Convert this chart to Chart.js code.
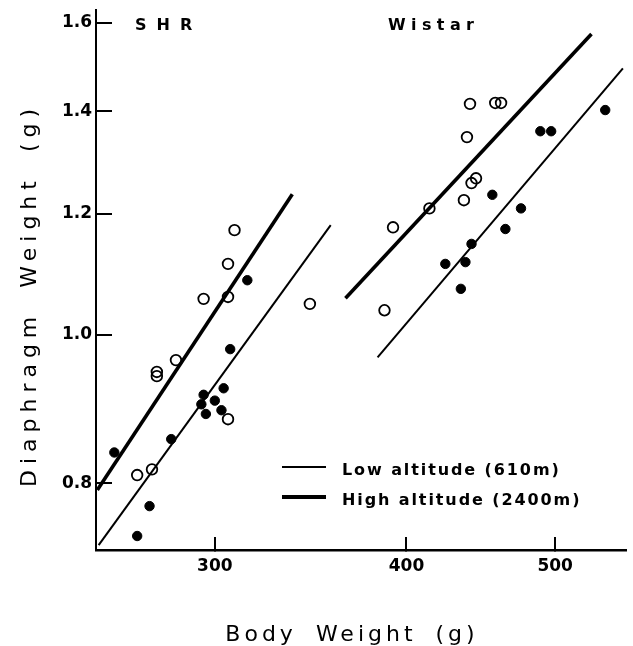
<!DOCTYPE html>
<html>
<head>
<meta charset="utf-8">
<title>Diaphragm weight vs body weight</title>
<script src="https://cdn.jsdelivr.net/npm/chart.js@4.4.1/dist/chart.umd.min.js"></script>
<style>
  html, body { margin: 0; padding: 0; background: #fff; }
  canvas { display: block; }
</style>
</head>
<body>
<canvas id="chart" width="633" height="646"></canvas>
<script>
// values: body weight (g) vs diaphragm weight (g)
// open circles = high altitude, filled circles = low altitude
const shrHighBody  = [309, 306, 295, 306, 346, 283, 275, 275, 306, 267, 273];
const shrHighDiaph = [1.171, 1.113, 1.056, 1.059, 1.048, 0.963, 0.946, 0.940, 0.881, 0.810, 0.817];

const shrLowBody  = [315, 307, 295, 304, 300, 294, 303, 296, 281, 258, 272, 267];
const shrLowDiaph = [1.086, 0.979, 0.914, 0.923, 0.906, 0.901, 0.893, 0.888, 0.855, 0.838, 0.773, 0.739];

const wistarHighBody  = [440, 457, 461, 438, 444, 441, 436, 414, 392, 387];
const wistarHighDiaph = [1.416, 1.418, 1.418, 1.347, 1.266, 1.257, 1.225, 1.210, 1.176, 1.038];

const wistarLowBody  = [455, 441, 424, 437, 434, 464, 475, 489, 497, 539];
const wistarLowDiaph = [1.235, 1.147, 1.113, 1.116, 1.072, 1.173, 1.210, 1.359, 1.359, 1.403];

// regression lines (end points)
const shrHighFitBody     = [251.5, 337];
const shrHighFitDiaph    = [0.792, 1.236];
const shrLowFitBody      = [252, 357];
const shrLowFitDiaph     = [0.729, 1.180];
const wistarHighFitBody  = [365, 528];
const wistarHighFitDiaph = [1.057, 1.573];
const wistarLowFitBody   = [383, 553.5];
const wistarLowFitDiaph  = [0.967, 1.494];

const xTicks = [300, 400, 500];
const yTicks = [0.8, 1.0, 1.2, 1.4, 1.6];
const groupLabels = ['SHR', 'Wistar'];
const legendLabels = ['Low altitude (610m)', 'High altitude (2400m)'];
const xTitle = 'Body Weight (g)';
const yTitle = 'Diaphragm Weight (g)';

const toPoints = (xs, ys) => xs.map((x, i) => ({ x: x, y: ys[i] }));

const openDot = {
  showLine: false, pointRadius: 5.3, pointHoverRadius: 5.3, pointBorderWidth: 1.8,
  pointBorderColor: '#000', pointBackgroundColor: 'rgba(0,0,0,0)'
};
const filledDot = {
  showLine: false, pointRadius: 4.7, pointHoverRadius: 4.7, pointBorderWidth: 1,
  pointBorderColor: '#000', pointBackgroundColor: '#000'
};
const thinLine = { showLine: true, pointRadius: 0, borderColor: '#000', borderWidth: 2 };
const thickLine = { showLine: true, pointRadius: 0, borderColor: '#000', borderWidth: 3.6 };

const FONT = '"DejaVu Sans", "Liberation Sans", sans-serif';

// titles, group names and the line legend
const annotations = {
  id: 'annotations',
  afterDraw(chart) {
    const ctx = chart.ctx;
    ctx.save();
    ctx.fillStyle = '#000';
    ctx.strokeStyle = '#000';
    ctx.textBaseline = 'alphabetic';

    ctx.font = 'bold 16px ' + FONT;
    ctx.textAlign = 'left';
    ctx.letterSpacing = '10px';
    ctx.fillText(groupLabels[0], 135, 30);
    ctx.letterSpacing = '5.4px';
    ctx.fillText(groupLabels[1], 388, 30);

    // legend
    ctx.lineCap = 'butt';
    ctx.lineWidth = 2;
    ctx.beginPath(); ctx.moveTo(282, 467); ctx.lineTo(326, 467); ctx.stroke();
    ctx.lineWidth = 4;
    ctx.beginPath(); ctx.moveTo(282, 497); ctx.lineTo(326, 497); ctx.stroke();
    ctx.letterSpacing = '1.9px';
    ctx.fillText(legendLabels[0], 342, 475);
    ctx.fillText(legendLabels[1], 342, 505);

    // axis titles
    ctx.font = '22px ' + FONT;
    ctx.textAlign = 'center';
    ctx.letterSpacing = '4px';
    ctx.wordSpacing = '8px';
    ctx.fillText(xTitle, 352, 641);

    ctx.translate(36, 295);
    ctx.rotate(-Math.PI / 2);
    ctx.letterSpacing = '6px';
    ctx.wordSpacing = '10px';
    ctx.fillText(yTitle, 0, 0);
    ctx.restore();
  }
};

const noPadding = (scale) => {
  scale.paddingTop = 0;
  scale.paddingBottom = 0;
  scale.paddingLeft = 0;
  scale.paddingRight = 0;
};

new Chart(document.getElementById('chart'), {
  type: 'scatter',
  data: {
    datasets: [
      { label: 'SHR high', data: toPoints(shrHighBody, shrHighDiaph), ...openDot },
      { label: 'SHR low', data: toPoints(shrLowBody, shrLowDiaph), ...filledDot },
      { label: 'Wistar high', data: toPoints(wistarHighBody, wistarHighDiaph), ...openDot },
      { label: 'Wistar low', data: toPoints(wistarLowBody, wistarLowDiaph), ...filledDot },
      { label: 'SHR high fit', data: toPoints(shrHighFitBody, shrHighFitDiaph), ...thickLine },
      { label: 'SHR low fit', data: toPoints(shrLowFitBody, shrLowFitDiaph), ...thinLine },
      { label: 'Wistar high fit', data: toPoints(wistarHighFitBody, wistarHighFitDiaph), ...thickLine },
      { label: 'Wistar low fit', data: toPoints(wistarLowFitBody, wistarLowFitDiaph), ...thinLine }
    ]
  },
  options: {
    responsive: false,
    animation: false,
    layout: { padding: { left: 0, top: 10, right: 5, bottom: 0 } },
    plugins: {
      legend: { display: false },
      tooltip: { enabled: false }
    },
    scales: {
      x: {
        type: 'logarithmic',
        bounds: 'data',
        min: 251,
        max: 556,
        afterBuildTicks: (s) => { s.ticks = xTicks.map(v => ({ value: v })); },
        afterFit: (s) => { s.height = 96; noPadding(s); },
        border: { display: true, color: '#000', width: 2.5 },
        grid: { display: true, drawOnChartArea: false, drawTicks: true, tickLength: -13, color: '#000', lineWidth: 2 },
        ticks: {
          padding: 19,
          color: '#000',
          font: { family: FONT, size: 17, weight: 'bold' },
          callback: (v) => String(v)
        }
      },
      y: {
        type: 'logarithmic',
        bounds: 'data',
        min: 0.7236,
        max: 1.631,
        afterBuildTicks: (s) => { s.ticks = yTicks.map(v => ({ value: v })); },
        afterFit: (s) => { s.width = 96; noPadding(s); },
        border: { display: true, color: '#000', width: 2 },
        grid: { display: true, drawOnChartArea: false, drawTicks: true, tickLength: -16, color: '#000', lineWidth: 2 },
        ticks: {
          padding: 20,
          color: '#000',
          font: { family: FONT, size: 17, weight: 'bold' },
          callback: (v) => Number(v).toFixed(1)
        }
      }
    }
  },
  plugins: [annotations]
});
</script>
</body>
</html>
